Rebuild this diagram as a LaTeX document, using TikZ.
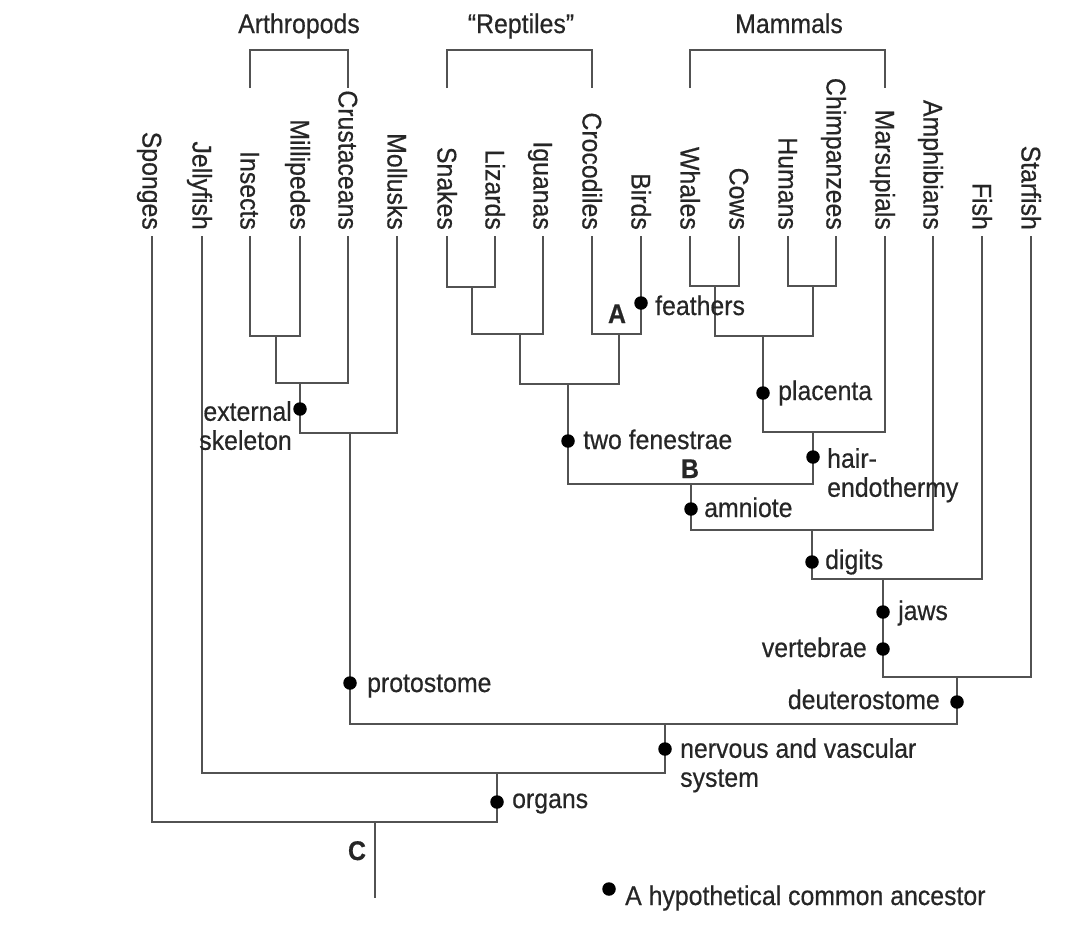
\documentclass[tikz,border=0pt]{standalone}
\usepackage{fontspec}
\setmainfont[FakeStretch=0.92,FakeBold=0.5]{Liberation Sans}
\begin{document}
\begin{tikzpicture}[x=1pt,y=-1pt,
  every node/.style={font=\fontsize{27}{29}\selectfont},
  ln/.style={line width=2pt, draw=black!68},
  dot/.style={circle, fill=black, inner sep=0pt, minimum size=13.5pt},
  lbl/.style={inner sep=0pt, text=black!85},
  leaf/.style={lbl, rotate=-90, anchor=base east},
  letter/.style={lbl, anchor=base, font=\fontsize{27}{29}\selectfont\bfseries}]
\useasboundingbox (0,0) rectangle (1066,932);

% leaves
\foreach \n/\x/\t in {0/152/Sponges,1/202/Jellyfish,2/250/Insects,3/300/Millipedes,
  4/348/Crustaceans,5/397/Mollusks,6/447/Snakes,7/495/Lizards,8/543/Iguanas,
  9/592/Crocodiles,10/641/Birds,11/690/Whales,12/739/Cows,13/788/Humans,
  14/836/Chimpanzees,15/885/Marsupials,16/933/Amphibians,17/982/Fish,18/1031/Starfish}{
  \node[leaf] (n\n) at (\x-9.5,230) {\t};
  \coordinate (t\n) at (\x,236);
}

% group brackets
\coordinate (aL) at (250,88); \coordinate (aM) at (299,50); \coordinate (aR) at (348,88);
\coordinate (rL) at (447,88); \coordinate (rM) at (520,50); \coordinate (rR) at (592,88);
\coordinate (mL) at (690,88); \coordinate (mM) at (788,50); \coordinate (mR) at (885,88);
\draw[ln] (aL) |- (aM) -| (aR);
\draw[ln] (rL) |- (rM) -| (rR);
\draw[ln] (mL) |- (mM) -| (mR);
\node[lbl, anchor=base] (gArth) at (299,33) {Arthropods};
\node[lbl, anchor=base] (gRep) at (521,33) {“Reptiles”};
\node[lbl, anchor=base] (gMam) at (789,33) {Mammals};

% junctions
\coordinate (jIM) at (276,336);
\coordinate (jIMC) at (300,383);
\coordinate (jArth) at (350,433);
\coordinate (jSL) at (472,287);
\coordinate (jSLI) at (520,334);
\coordinate (jCB) at (619,334);
\coordinate (jRep) at (568,384);
\coordinate (jWC) at (715,286);
\coordinate (jHC) at (813,286);
\coordinate (jPlac) at (763,336);
\coordinate (jMam) at (813,432);
\coordinate (jAmn) at (691,484);
\coordinate (jDig) at (812,530);
\coordinate (jFish) at (883,579);
\coordinate (jDeut) at (957,677);
\coordinate (jProto) at (665,724);
\coordinate (jNerv) at (497,773);
\coordinate (jOrg) at (375,822);
\coordinate (root) at (375,898);

% branches
\draw[ln] (t2) |- (jIM) -| (t3);
\draw[ln] (jIM) |- (jIMC) -| (t4);
\draw[ln] (jIMC) |- (jArth) -| (t5);
\draw[ln] (jArth) |- (jProto) -| (jDeut);
\draw[ln] (t6) |- (jSL) -| (t7);
\draw[ln] (jSL) |- (jSLI) -| (t8);
\draw[ln] (t9) |- (jCB) -| (t10);
\draw[ln] (jSLI) |- (jRep) -| (jCB);
\draw[ln] (t11) |- (jWC) -| (t12);
\draw[ln] (t13) |- (jHC) -| (t14);
\draw[ln] (jWC) |- (jPlac) -| (jHC);
\draw[ln] (jPlac) |- (jMam) -| (t15);
\draw[ln] (jRep) |- (jAmn) -| (jMam);
\draw[ln] (jAmn) |- (jDig) -| (t16);
\draw[ln] (jDig) |- (jFish) -| (t17);
\draw[ln] (jFish) |- (jDeut) -| (t18);
\draw[ln] (t1) |- (jNerv) -| (jProto);
\draw[ln] (t0) |- (jOrg) -| (jNerv);
\draw[ln] (jOrg) -- (root);

% ancestors (dots) and their labels
\node[dot] (dExt) at (300,409) {};
\node[lbl, anchor=north east, align=right] (lExt) at (292,401) {external\\skeleton};
\node[dot] (dFea) at (641,303) {};
\node[lbl, anchor=base west] (lFea) at (655,315) {feathers};
\node[letter] (lA) at (617,323) {A};
\node[dot] (dPla) at (763,393) {};
\node[lbl, anchor=base west] (lPla) at (778,400) {placenta};
\node[dot] (dFen) at (568,441) {};
\node[lbl, anchor=base west] (lFen) at (583,449) {two fenestrae};
\node[dot] (dHair) at (813,457) {};
\node[lbl, anchor=north west, align=left] (lHair) at (827,448) {hair-\\endothermy};
\node[letter] (lB) at (690,478) {B};
\node[dot] (dAmn) at (691,509) {};
\node[lbl, anchor=base west] (lAmn) at (704,517) {amniote};
\node[dot] (dDig) at (812,562) {};
\node[lbl, anchor=base west] (lDig) at (825,569) {digits};
\node[dot] (dJaw) at (883,612) {};
\node[lbl, anchor=base west] (lJaw) at (898,620) {jaws};
\node[dot] (dVert) at (883,649) {};
\node[lbl, anchor=base east] (lVert) at (867,657) {vertebrae};
\node[dot] (dDeut) at (957,702) {};
\node[lbl, anchor=base east] (lDeut) at (940,709) {deuterostome};
\node[dot] (dProt) at (350,683) {};
\node[lbl, anchor=base west] (lProt) at (367,692) {protostome};
\node[dot] (dNerv) at (665,749) {};
\node[lbl, anchor=north west, align=left] (lNerv) at (680,738) {nervous and vascular\\system};
\node[dot] (dOrg) at (497,802) {};
\node[lbl, anchor=base west] (lOrg) at (512,808) {organs};
\node[letter] (lC) at (357,860) {C};

% legend
\node[dot] (dLeg) at (609,889) {};
\node[lbl, anchor=base west] (lLeg) at (625,905) {A hypothetical common ancestor};
\end{tikzpicture}
\end{document}
